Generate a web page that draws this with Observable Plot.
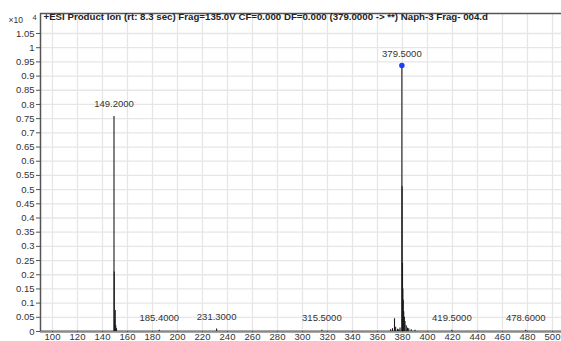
<!DOCTYPE html>
<html>
<head>
<meta charset="utf-8">
<script src="https://cdn.jsdelivr.net/npm/d3@7"></script>
<script src="https://cdn.jsdelivr.net/npm/@observablehq/plot@0.6"></script>
<style>
  html, body { margin: 0; padding: 0; background: #fff; }
  #chart svg { display: block; }
</style>
</head>
<body>
<div id="chart"></div>
<script>
// ---- data ----
const titleText = "+ESI Product Ion (rt: 8.3 sec) Frag=135.0V CF=0.000 DF=0.000 (379.0000 -> **) Naph-3 Frag- 004.d";
const expLabel = "×10";
const expPower = "4";

// profile sticks: m/z and relative abundance (×10^4)
const peakMz = [
  149.2, 149.4, 149.7, 150.2, 150.6, 151.2,
  185.4, 231.3, 315.5,
  370.5, 372.0, 373.6, 374.5, 376.0, 377.0, 378.0,
  379.5, 379.7, 380.0, 380.3, 380.6, 381.0, 381.5, 382.0, 383.0, 384.0, 385.0, 387.0, 390.0,
  419.5, 478.6
];
const peakInt = [
  0.758, 0.21, 0.04, 0.074, 0.02, 0.01,
  0.004, 0.009, 0.004,
  0.006, 0.01, 0.045, 0.015, 0.008, 0.006, 0.012,
  0.937, 0.51, 0.24, 0.15, 0.11, 0.07, 0.05, 0.035, 0.02, 0.012, 0.01, 0.006, 0.004,
  0.004, 0.004
];

// annotated peaks
const labelMz = [149.2, 185.4, 231.3, 315.5, 379.5, 419.5, 478.6];
const labelInt = [0.758, 0.004, 0.009, 0.004, 0.937, 0.004, 0.004];
const labelText = ["149.2000", "185.4000", "231.3000", "315.5000", "379.5000", "419.5000", "478.6000"];

// selected precursor marker
const markerMz = [379.5];
const markerInt = [0.937];

// axes
const xTicks = [100, 120, 140, 160, 180, 200, 220, 240, 260, 280, 300, 320, 340, 360, 380, 400, 420, 440, 460, 480, 500];
const yTicks = [0, 0.05, 0.1, 0.15, 0.2, 0.25, 0.3, 0.35, 0.4, 0.45, 0.5, 0.55, 0.6, 0.65, 0.7, 0.75, 0.8, 0.85, 0.9, 0.95, 1, 1.05];
const xDomain = [90.4, 507.2];
const yDomain = [0, 1.1205];

// ---- build tables ----
const peaks = peakMz.map((m, i) => ({mz: m, v: peakInt[i]}));
const labels = labelMz.map((m, i) => ({mz: m, v: labelInt[i], t: labelText[i]}));
const marker = markerMz.map((m, i) => ({mz: m, v: markerInt[i]}));

const font = "'Liberation Sans', Arial, sans-serif";

const chart = Plot.plot({
  width: 561,
  height: 341,
  marginLeft: 40,
  marginRight: 0,
  marginTop: 13,
  marginBottom: 10,
  style: {fontFamily: font, fontSize: "9.5px", color: "#333", background: "#fff", overflow: "visible"},
  x: {domain: xDomain, axis: null, label: null},
  y: {domain: yDomain, axis: null, label: null},
  marks: [
    // grid
    Plot.ruleX(xTicks, {stroke: "#e6e6e6", strokeWidth: 1.3}),
    Plot.ruleY(yTicks.filter(d => d > 0), {stroke: "#e6e6e6", strokeWidth: 1.3}),
    // top frame line
    Plot.ruleY([yDomain[1]], {stroke: "#555", strokeWidth: 1.5}),
    // baseline noise
    Plot.ruleY([0], {stroke: "#8a8a8a", strokeWidth: 2.5}),
    // spectrum sticks
    Plot.ruleX(peaks, {x: "mz", y1: 0, y2: "v", stroke: "#1a1a1a", strokeWidth: 1.1}),
    // axes
    Plot.axisY({ticks: yTicks, label: null, tickSize: 4, tickPadding: 2, tickFormat: d => String(d), fontSize: 9.5, stroke: "#555", fill: "#333"}),
    Plot.axisX({ticks: xTicks, label: null, tickSize: 1, tickPadding: 1, tickFormat: d => String(d), fontSize: 9.5, stroke: "#555", fill: "#333"}),
    Plot.ruleX([xDomain[0]], {stroke: "#555", strokeWidth: 1.5}),
    // precursor marker
    Plot.dot(marker, {x: "mz", y: "v", r: 2, fill: "#1b3dff", stroke: "#1b3dff"}),
    // peak labels
    Plot.text(labels, {x: "mz", y: "v", text: "t", dy: -12, fontSize: 9.5, fill: "#333"}),
    // title inside frame
    Plot.text([titleText], {frameAnchor: "top-left", dx: 3, dy: 0, textAnchor: "start", lineAnchor: "top", fontSize: 9.7, fontWeight: "bold", fill: "#222"}),
    // exponent label
    Plot.text([expLabel], {frameAnchor: "top-left", dx: -32, dy: 3, textAnchor: "start", lineAnchor: "top", fontSize: 8.5, fill: "#333"}),
    Plot.text([expPower], {frameAnchor: "top-left", dx: -8, dy: 1, textAnchor: "start", lineAnchor: "top", fontSize: 7.5, fill: "#333"})
  ]
});

document.getElementById("chart").appendChild(chart);
</script>
</body>
</html>
